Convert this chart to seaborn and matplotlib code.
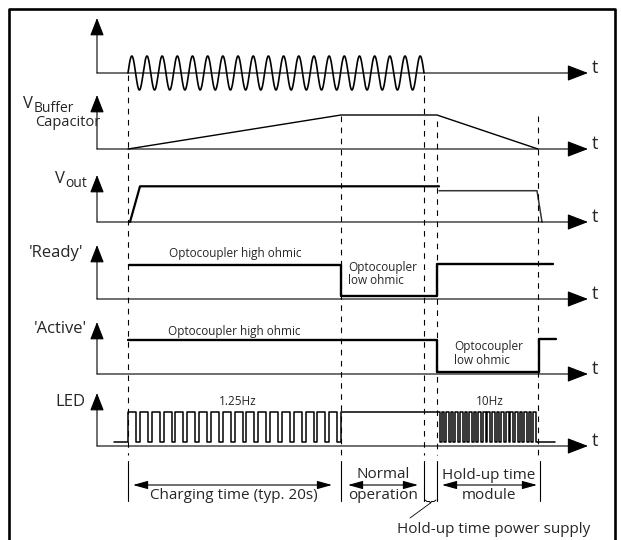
import matplotlib

matplotlib.use("Agg")
import matplotlib.pyplot as plt
import numpy as np
import pandas as pd
import seaborn as sns

# Moments on the shared time axis
T_ON = 128          # mains switched on
T_CHARGED = 341     # buffer capacitor fully charged
T_MAINS_OFF = 424   # mains lost
T_PSU_END = 437     # hold-up of the power supply over
T_MODULE_END = 538  # hold-up of the buffer module over

# Mains sine
MAINS_CYCLES = 19.5
MAINS_AMPLITUDE = 0.5

# Buffer capacitor voltage
buffer_t = [T_ON, T_CHARGED, T_PSU_END, T_MODULE_END]
buffer_v = [0, 1, 1, 0]

# Output voltage (normal, then held up by the module)
vout_t = [130, 140, 439]
vout_v = [0, 1.05, 1.05]
vout_hold_t = [439, 537, 542]
vout_hold_v = [0.92, 0.92, 0]

# 'Ready' contact
ready_t = [129, T_CHARGED, T_CHARGED, T_PSU_END, T_PSU_END, 553]
ready_v = [1, 1, 0.09, 0.09, 1.03, 1.03]

# 'Active' contact
active_t = [128, T_PSU_END, T_PSU_END, 539, 539, 556]
active_v = [1, 1, 0.07, 0.07, 1.03, 1.03]

# LED
LED_FIRST = 114
LED_LAST = 555
LED_SLOW_PULSES = 18
LED_FAST_PULSES = 22
LED_LOW = 0.12

# Row layout (pixels of the 621x540 canvas)
ROW_BASE = [73, 149, 222, 299, 374, 446]
ROW_TOP = [18, 95, 175, 245, 322, 393]
ROW_SCALE = 34
AXIS_X = 97
ARROW_END = 588


def to_px(row, values):
    return ROW_BASE[row] - np.asarray(values, dtype=float) * ROW_SCALE


def trace(ax, row, ts, vs, lw=1.5, color="black"):
    df = pd.DataFrame({"t": ts, "y": to_px(row, vs)})
    sns.lineplot(data=df, x="t", y="y", ax=ax, sort=False, estimator=None,
                 color=color, linewidth=lw, legend=False)


def led_wave():
    ts, vs = [LED_FIRST, T_ON], [LED_LOW, LED_LOW]
    p = (T_CHARGED - T_ON) / LED_SLOW_PULSES
    for k in range(LED_SLOW_PULSES):
        a = T_ON + k * p
        b = a + 0.68 * p
        ts += [a, a, b, b]
        vs += [LED_LOW, 1, 1, LED_LOW]
    ts += [T_CHARGED, T_CHARGED]
    vs += [LED_LOW, 1]
    p = (T_MODULE_END - T_PSU_END) / LED_FAST_PULSES
    for k in range(LED_FAST_PULSES):
        a = T_PSU_END + k * p
        b = a + 0.58 * p
        ts += [a, b, b, a + p]
        vs += [1, 1, LED_LOW, LED_LOW]
        if k < LED_FAST_PULSES - 1:
            ts += [a + p]
            vs += [1]
    ts += [LED_LAST]
    vs += [LED_LOW]
    return ts, vs


def axis_arrow(ax, start, end, hl, hw, lw=0.8):
    ax.annotate("", xy=end, xytext=start,
                arrowprops=dict(arrowstyle=f"-|>,head_length={hl},head_width={hw}",
                                color="black", lw=lw, shrinkA=0, shrinkB=0,
                                mutation_scale=1))


def main():
    sns.set_theme(style="white")
    plt.rcParams["font.family"] = ["Open Sans", "DejaVu Sans"]

    fig = plt.figure(figsize=(6.21, 5.40), dpi=100)
    ax = fig.add_axes([0, 0, 1, 1])
    ax.set_xlim(0, 621)
    ax.set_ylim(540, 0)
    ax.axis("off")

    # frame
    ax.plot([9, 9, 615, 615], [560, 9, 9, 560], color="black", lw=1.9)

    # axes of every row
    for base, top in zip(ROW_BASE, ROW_TOP):
        axis_arrow(ax, (AXIS_X, base), (ARROW_END, base), 13, 5.0)
        axis_arrow(ax, (AXIS_X, base), (AXIS_X, top), 11, 4.3)
        ax.text(592, base, "t", fontsize=13, ha="left", va="baseline")

    # mains sine
    ts = np.linspace(T_ON, T_MAINS_OFF, 800)
    sine = MAINS_AMPLITUDE * np.sin(2 * np.pi * MAINS_CYCLES * (ts - T_ON) / (T_MAINS_OFF - T_ON))
    trace(ax, 0, ts, sine, lw=1.2)

    trace(ax, 1, buffer_t, buffer_v, lw=1.0)
    trace(ax, 2, vout_t, vout_v, lw=1.6)
    trace(ax, 2, vout_hold_t, vout_hold_v, lw=1.1, color="#333333")
    trace(ax, 3, ready_t, ready_v, lw=1.7)
    trace(ax, 4, active_t, active_v, lw=1.7)
    led_t, led_v = led_wave()
    trace(ax, 5, led_t, led_v, lw=1.1)

    # dashed event markers
    dash_x = [T_ON, T_CHARGED, T_MAINS_OFF, T_PSU_END, T_MODULE_END]
    dash_top = [75, 116, 75, 121, 116]
    for x, y0 in zip(dash_x, dash_top):
        ax.plot([x, x], [y0, 455], color="black", lw=0.8, linestyle=(0, (5, 5)))

    # phase brackets below the diagram
    for x in [T_ON, T_CHARGED, T_MAINS_OFF, T_PSU_END, 540]:
        ax.plot([x, x], [461, 501], color="black", lw=0.8)
    spans = [(T_ON + 5, T_CHARGED - 9), (T_CHARGED + 7, T_MAINS_OFF - 6), (T_PSU_END + 5, 537)]
    for a, b in spans:
        ax.annotate("", xy=(b, 485), xytext=(a, 485),
                    arrowprops=dict(arrowstyle="<|-|>,head_length=9,head_width=2.5",
                                    color="black", lw=0.8, shrinkA=0, shrinkB=0,
                                    mutation_scale=1))

    fs = 11
    ax.text(234, 499, "Charging time (typ. 20s)", fontsize=fs, ha="center", va="baseline")
    ax.text(383, 478, "Normal", fontsize=fs, ha="center", va="baseline")
    ax.text(383, 499, "operation", fontsize=fs, ha="center", va="baseline")
    ax.text(489, 479, "Hold-up time", fontsize=fs, ha="center", va="baseline")
    ax.text(489, 499, "module", fontsize=fs, ha="center", va="baseline")

    # brace + leader for the power supply hold-up
    mid = (T_MAINS_OFF + T_PSU_END) / 2
    ax.plot([T_MAINS_OFF + 1, T_MAINS_OFF + 3, mid - 1, mid, mid + 1, T_PSU_END - 3, T_PSU_END - 1],
            [500, 501.5, 501.5, 503, 501.5, 501.5, 500], color="black", lw=0.7)
    ax.plot([mid, 410], [503, 518], color="black", lw=0.6)
    ax.text(397, 533, "Hold-up time power supply", fontsize=fs, ha="left", va="baseline")

    # row labels
    lab = 12
    ax.text(23, 108, "V", fontsize=lab, ha="left", va="baseline")
    ax.text(33.5, 112, "Buffer", fontsize=10, ha="left", va="baseline")
    ax.text(35, 126, "Capacitor", fontsize=10.5, ha="left", va="baseline")
    ax.text(55, 183, "V", fontsize=lab, ha="left", va="baseline")
    ax.text(65.5, 187, "out", fontsize=10, ha="left", va="baseline")
    ax.text(83, 257, "'Ready'", fontsize=lab, ha="right", va="baseline")
    ax.text(87, 333, "'Active'", fontsize=lab, ha="right", va="baseline")
    ax.text(85, 406, "LED", fontsize=lab, ha="right", va="baseline")

    # annotations on the traces
    small = 8.5
    ax.text(235, 257, "Optocoupler high ohmic", fontsize=small, ha="center", va="baseline")
    ax.text(234, 335, "Optocoupler high ohmic", fontsize=small, ha="center", va="baseline")
    ax.text(348, 271, "Optocoupler", fontsize=small, ha="left", va="baseline")
    ax.text(348, 284, "low ohmic", fontsize=small, ha="left", va="baseline")
    ax.text(454, 350, "Optocoupler", fontsize=small, ha="left", va="baseline")
    ax.text(454, 364, "low ohmic", fontsize=small, ha="left", va="baseline")
    ax.text(238, 405, "1.25Hz", fontsize=small, ha="center", va="baseline")
    ax.text(490, 405, "10Hz", fontsize=small, ha="center", va="baseline")

    fig.savefig("out.png", dpi=100, facecolor="white")
    plt.close(fig)


if __name__ == "__main__":
    main()
